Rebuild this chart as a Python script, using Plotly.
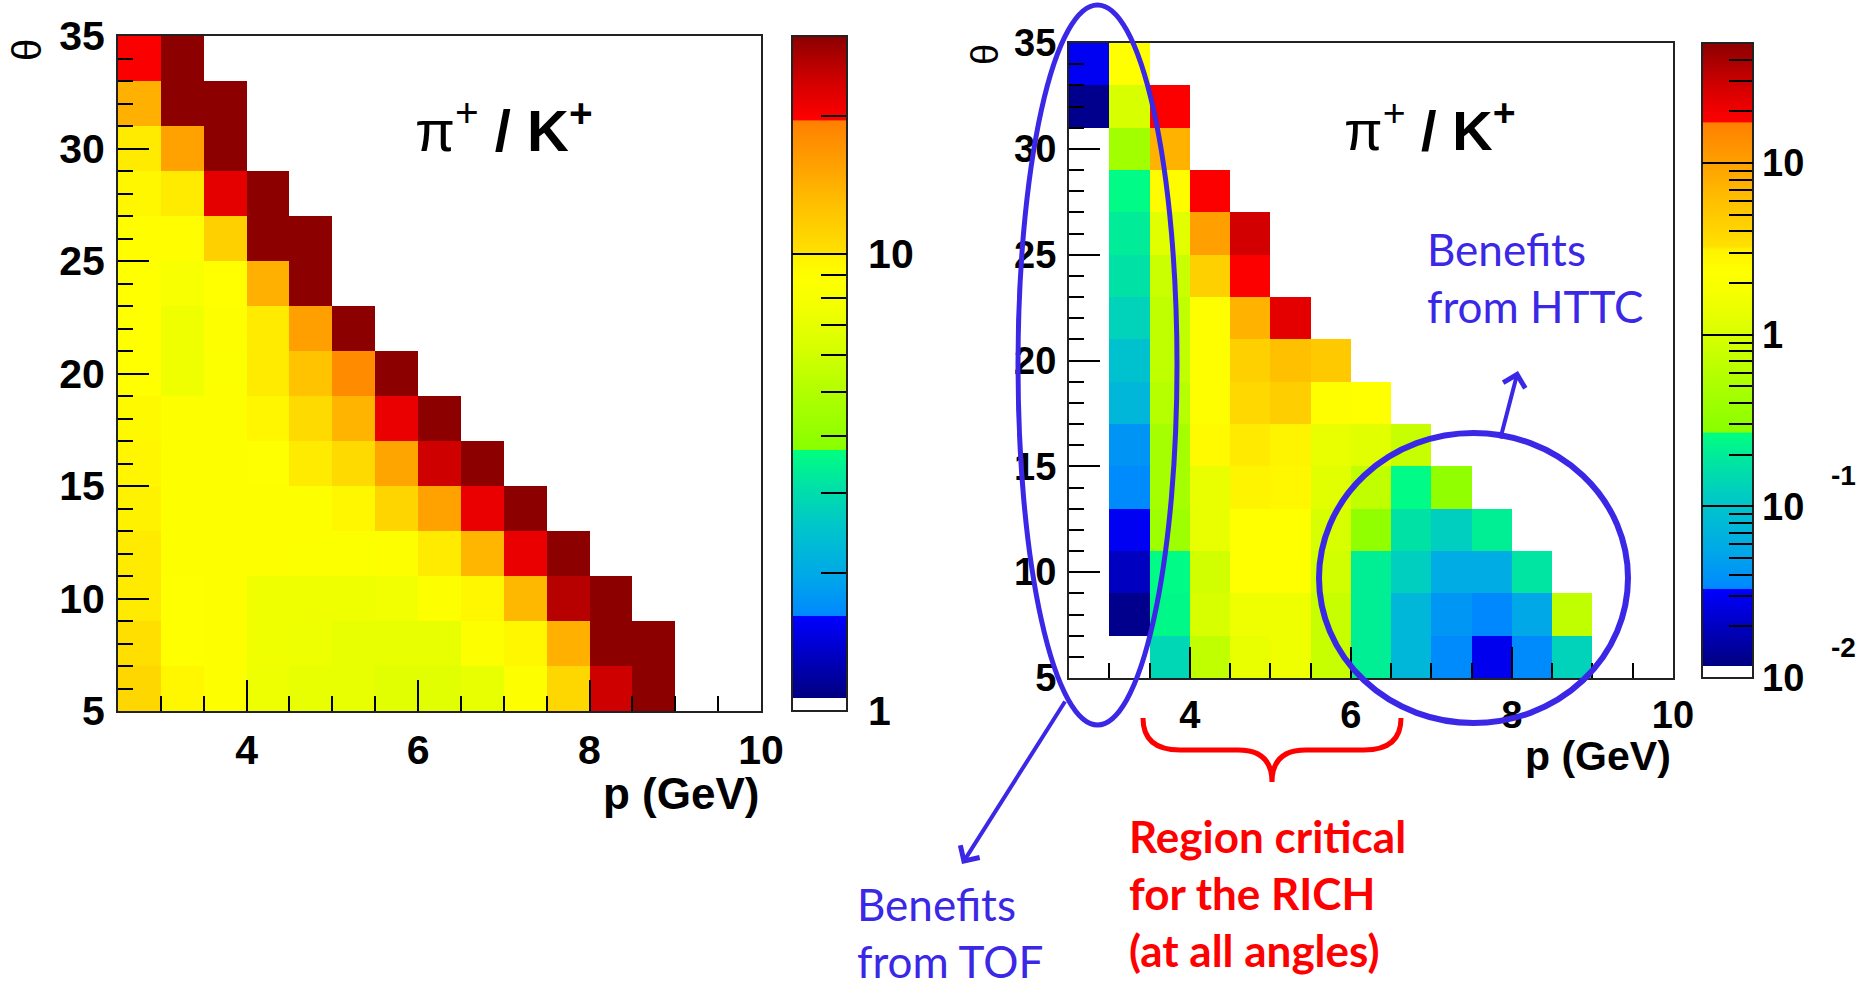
import numpy as np
import plotly.graph_objects as go

W, H = 1870, 984

# ---------------- data ----------------
p_centers = [2.75, 3.25, 3.75, 4.25, 4.75, 5.25, 5.75, 6.25, 6.75, 7.25, 7.75, 8.25, 8.75, 9.25, 9.75]
theta_centers = [34, 32, 30, 28, 26, 24, 22, 20, 18, 16, 14, 12, 10, 8, 6]

# pi+/K+ ratio, left panel (rows follow theta_centers, columns follow p_centers)
left_ratio = [
    [20, 35],
    [14.2, 35, 35],
    [10.0, 15.5, 35],
    [9.5, 10.0, 22, 35],
    [9.0, 9.0, 11.4, 35, 35],
    [8.8, 8.0, 8.8, 14.2, 35],
    [8.8, 7.5, 8.6, 10.0, 15.7, 35],
    [8.8, 7.4, 8.5, 10.0, 12.5, 18, 35],
    [9.3, 8.6, 8.6, 9.6, 10.6, 13.8, 21.5, 35],
    [9.6, 8.6, 8.6, 8.7, 10.0, 10.6, 15.2, 24, 35],
    [9.9, 8.6, 8.6, 8.6, 8.6, 9.5, 11.0, 15.5, 21.5, 35],
    [10.0, 8.6, 8.6, 8.6, 8.5, 8.5, 8.6, 10.0, 13.7, 21.5, 35],
    [10.0, 8.7, 8.6, 7.4, 7.4, 7.4, 7.6, 8.6, 9.5, 13.5, 26, 35],
    [10.2, 8.7, 8.6, 7.4, 7.3, 7.0, 7.0, 7.0, 8.6, 9.5, 14.2, 35, 35],
    [10.8, 9.5, 8.6, 7.3, 7.0, 7.0, 6.7, 6.7, 7.0, 8.6, 10.8, 24, 35],
]

# pi+/K+ ratio, right panel
right_ratio = [
    [0.030, 2.3],
    [0.013, 1.0, 18],
    [None, 0.42, 7.3],
    [None, 0.25, 2.5, 18],
    [None, 0.20, 1.2, 9.9, 28],
    [None, 0.17, 0.8, 4.4, 18],
    [None, 0.13, 0.7, 2.4, 7.3, 23],
    [None, 0.095, 0.7, 2.4, 4.4, 5.9, 5.0],
    [None, 0.075, 0.6, 2.4, 3.8, 4.6, 2.4, 2.3],
    [None, 0.041, 0.45, 2.6, 3.2, 3.0, 1.35, 1.2, 0.77],
    [None, 0.035, 0.45, 1.35, 3.0, 2.8, 1.2, 0.68, 0.25, 0.32],
    [None, 0.030, 0.39, 1.35, 2.3, 2.3, 1.0, 0.32, 0.17, 0.12, 0.21],
    [None, 0.020, 0.25, 0.9, 2.3, 2.3, 0.9, 0.21, 0.12, 0.06, 0.06, 0.18],
    [None, 0.013, 0.24, 1.0, 1.5, 1.5, 0.77, 0.21, 0.075, 0.042, 0.034, 0.055, 0.68],
    [None, None, 0.14, 0.68, 1.35, 1.5, 0.77, 0.21, 0.075, 0.035, 0.029, 0.035, 0.13],
]

left_range = [1, 30]
right_range = [0.01, 50]

left_major = [10]
left_minor = [2, 3, 4, 5, 6, 7, 8, 9, 20]
right_major = [0.01, 0.1, 1, 10]
right_minor = [0.02, 0.03, 0.04, 0.05, 0.06, 0.07, 0.08, 0.09,
               0.2, 0.3, 0.4, 0.5, 0.6, 0.7, 0.8, 0.9,
               2, 3, 4, 5, 6, 7, 8, 9, 20, 30, 40]

# ---------------- helpers ----------------
def to_log_grid(rows):
    out = []
    for r in rows:
        full = list(r) + [None] * (len(p_centers) - len(r))
        out.append([None if v is None else float(np.log10(v)) for v in full])
    return out

def X(px):
    return px / W

def Y(py):
    return 1 - py / H

colorscale = [
    [0.000, "#ffffff"], [0.019, "#ffffff"], [0.0191, "#000080"],
    [0.140, "#0000ff"], [0.141, "#0088ff"], [0.200, "#00a8e8"],
    [0.270, "#00c4cc"], [0.330, "#00e0a8"], [0.386, "#00ff80"],
    [0.387, "#88ff00"], [0.470, "#b0ff00"], [0.540, "#d8ff00"],
    [0.600, "#f4ff00"], [0.640, "#ffff00"], [0.675, "#fff200"],
    [0.680, "#ffe000"], [0.750, "#ffc000"], [0.810, "#ffa000"],
    [0.874, "#ff8000"], [0.876, "#ff0000"], [0.930, "#d40000"],
    [1.000, "#8c0000"],
]
clear_scale = [[0, "rgba(0,0,0,0)"], [1, "rgba(0,0,0,0)"]]

FONT = "Liberation Sans"
ANN_FONT = "Lato"
BLUE = "#3b27e6"
AXC = "#222222"

# geometry (pixels)
L = dict(x0=118, x1=761, y0=36, y1=711, cb0=792, cb1=847)
R = dict(x0=1069, x1=1673, y0=43, y1=678, cb0=1702, cb1=1753)

fig = go.Figure()

def add_panel(ratio, rng, major, minor, geo, xa, ya, fs, prefix):
    lo, hi = np.log10(rng[0]), np.log10(rng[1])
    ticks = sorted(major + minor + [rng[0]])
    labels = []
    for t in ticks:
        if t in major or t == rng[0]:
            labels.append(prefix + ("1" if t == 1 else "10"))
        else:
            labels.append("")
    cb_common = dict(
        x=X(geo["cb0"]), xanchor="left", xpad=0,
        y=Y(geo["y0"]), yanchor="top", ypad=0,
        len=(geo["y1"] - geo["y0"]) / H, lenmode="fraction",
        thickness=geo["cb1"] - geo["cb0"], thicknessmode="pixels",
    )
    fig.add_trace(go.Heatmap(
        x=p_centers, y=theta_centers, z=to_log_grid(ratio),
        zmin=lo, zmax=hi, colorscale=colorscale, xaxis=xa, yaxis=ya,
        hoverongaps=False,
        colorbar=dict(
            **cb_common, outlinewidth=2, outlinecolor=AXC,
            ticks="inside", ticklen=(geo["cb1"] - geo["cb0"]) // 2, tickwidth=2, tickcolor="black",
            tickvals=[float(np.log10(t)) for t in ticks], ticktext=labels,
            tickfont=dict(family=FONT, size=fs, color="black", weight="bold"),
        ),
    ))
    # full-width decade lines of the palette axis
    fig.add_trace(go.Scatter(
        x=[None], y=[None], mode="markers", xaxis=xa, yaxis=ya, hoverinfo="skip",
        showlegend=False,
        marker=dict(color=[lo], cmin=lo, cmax=hi, colorscale=clear_scale, showscale=True,
                    colorbar=dict(**cb_common, outlinewidth=0, ticks="inside",
                                  ticklen=geo["cb1"] - geo["cb0"], tickwidth=2, tickcolor="black",
                                  tickvals=[float(np.log10(t)) for t in major if rng[0] < t < rng[1]],
                                  showticklabels=False)),
    ))

add_panel(left_ratio, left_range, left_major, left_minor, L, "x", "y", 41, " ")
add_panel(right_ratio, right_range, right_major, right_minor, R, "x2", "y2", 38, "")

def axis_style(fs, standoff):
    return dict(
        showline=True, mirror=True, linecolor=AXC, linewidth=2,
        showgrid=False, zeroline=False, ticks="inside", tickwidth=2, tickcolor="black",
        tickfont=dict(family=FONT, size=fs, color="black", weight="bold"),
        ticklabelstandoff=standoff,
    )

for geo, xa, ya, fs in [(L, "xaxis", "yaxis", 41), (R, "xaxis2", "yaxis2", 38)]:
    anchor_x = "y" if xa == "xaxis" else "y2"
    anchor_y = "x" if ya == "yaxis" else "x2"
    fig.update_layout({
        xa: dict(domain=[X(geo["x0"]), X(geo["x1"])], range=[2.5, 10], anchor=anchor_x,
                 tickvals=[4, 6, 8, 10], ticklen=31,
                 minor=dict(ticks="inside", ticklen=15, tickwidth=2, tickcolor="black", dtick=0.5, tick0=2.5),
                 **axis_style(fs, 2)),
        ya: dict(domain=[Y(geo["y1"]), Y(geo["y0"])], range=[5, 35], anchor=anchor_y,
                 tickvals=[5, 10, 15, 20, 25, 30, 35], ticklen=31,
                 minor=dict(ticks="inside", ticklen=15, tickwidth=2, tickcolor="black", dtick=1, tick0=5),
                 **axis_style(fs, 3)),
    })

ann = []
# axis titles, theta labels, panel titles
ann.append(dict(text="<b>p (GeV)</b>", x=X(761), y=Y(793), xanchor="right", yanchor="middle",
                font=dict(family=FONT, size=44, color="black")))
ann.append(dict(text="<b>p (GeV)</b>", x=X(1673), y=Y(756), xanchor="right", yanchor="middle",
                font=dict(family=FONT, size=41, color="black")))
ann.append(dict(text="θ", x=X(27), y=Y(50), textangle=-90, xanchor="center", yanchor="middle",
                font=dict(family=FONT, size=40, color="black")))
ann.append(dict(text="θ", x=X(985), y=Y(55), textangle=-90, xanchor="center", yanchor="middle",
                font=dict(family=FONT, size=38, color="black")))
ann.append(dict(text="π<sup>+</sup> <b>/ K</b><sup><b>+</b></sup>", x=X(504), y=Y(126),
                xanchor="center", yanchor="middle", font=dict(family=FONT, size=58, color="black")))
ann.append(dict(text="π<sup>+</sup> <b>/ K</b><sup><b>+</b></sup>", x=X(1430), y=Y(126),
                xanchor="center", yanchor="middle", font=dict(family=FONT, size=56, color="black")))
# exponents of the right palette axis labels
for expo, lv in [("-1", -1), ("-2", -2)]:
    frac = (lv - np.log10(right_range[0])) / (np.log10(right_range[1]) - np.log10(right_range[0]))
    py = R["y1"] - frac * (R["y1"] - R["y0"]) - 31
    ann.append(dict(text="<b>%s</b>" % expo, x=X(1843), y=Y(py), xanchor="center", yanchor="middle",
                    font=dict(family=FONT, size=28, color="black")))
# callouts
ann.append(dict(text="Benefits<br>from HTTC", x=X(1425), y=Y(277), xanchor="left", yanchor="middle",
                align="left", font=dict(family=ANN_FONT, size=44, color=BLUE)))
ann.append(dict(text="Benefits<br>from TOF", x=X(855), y=Y(932), xanchor="left", yanchor="middle",
                align="left", font=dict(family=ANN_FONT, size=44, color=BLUE)))
ann.append(dict(text="<b>Region critical<br>for the RICH<br>(at all angles)</b>", x=X(1127), y=Y(893),
                xanchor="left", yanchor="middle", align="left",
                font=dict(family=ANN_FONT, size=44, color="#ff0000")))
# arrows
ann.append(dict(text="", x=X(962), y=Y(864), showarrow=True,
                ax=1066 - 962, ay=700 - 864, arrowhead=4, arrowsize=1.1, arrowwidth=4, arrowcolor=BLUE,
                standoff=0))
ann.append(dict(text="", x=X(1518), y=Y(371), showarrow=True,
                ax=1500 - 1518, ay=440 - 371, arrowhead=4, arrowsize=1.1, arrowwidth=4, arrowcolor=BLUE,
                standoff=0))
for a in ann:
    a.setdefault("xref", "paper")
    a.setdefault("yref", "paper")
    a.setdefault("showarrow", False)

def path(points):
    s = ""
    for cmd, pts in points:
        s += cmd + " ".join("%.5f,%.5f" % (X(a), Y(b)) for a, b in pts) + " "
    return s.strip()

brace = path([
    ("M", [(1143, 718)]), ("Q", [(1143, 750), (1180, 750)]), ("L", [(1238, 750)]),
    ("Q", [(1272, 750), (1272, 782)]), ("Q", [(1272, 750), (1306, 750)]), ("L", [(1364, 750)]),
    ("Q", [(1401, 750), (1401, 718)]),
])

shapes = [
    dict(type="circle", xref="paper", yref="paper", x0=X(1018), x1=X(1177), y0=Y(725), y1=Y(5),
         line=dict(color=BLUE, width=5)),
    dict(type="circle", xref="paper", yref="paper", x0=X(1319), x1=X(1628), y0=Y(723), y1=Y(433),
         line=dict(color=BLUE, width=6)),
    dict(type="path", xref="paper", yref="paper", path=brace, line=dict(color="#ff0000", width=5)),
]

fig.update_layout(
    width=W, height=H, margin=dict(l=0, r=0, t=0, b=0, autoexpand=False),
    paper_bgcolor="white", plot_bgcolor="white", showlegend=False,
    annotations=ann, shapes=shapes,
)

fig.write_html("out.html")
